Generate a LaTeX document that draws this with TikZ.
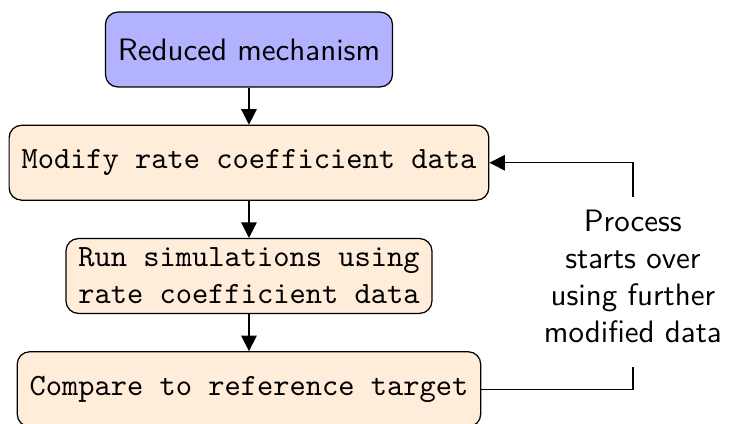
\documentclass[tikz,border=0pt]{standalone}
\usepackage{tikz}
\usetikzlibrary{positioning, arrows.meta}

\begin{document}
\begin{tikzpicture}[>={Triangle[length=5pt,width=5pt]}, node distance=12pt,
    mech/.style={draw, rounded corners, fill=blue!30, font=\sffamily, inner xsep=4pt, inner ysep=2pt, minimum height=0.85cm},
    proc/.style={draw, rounded corners, fill=orange!15, font=\ttfamily, align=center, inner xsep=4pt, inner ysep=2pt, minimum height=0.85cm}]
    \useasboundingbox (0,0) rectangle (237.5pt,-137pt);
    \node[mech] (M) at (80.45pt,-16pt) {Reduced mechanism};
    \node[proc] (Mod) [below=of M] {Modify rate coefficient data};
    \node[proc] (Run) [below=of Mod] {Run simulations using \\ rate coefficient data};
    \node[proc] (Cmp) [below=of Run] {Compare to reference target};
    \node[font=\sffamily, align=center, inner sep=4pt] (Lbl) at (204.5pt,-91pt) {Process \\ starts over \\ using further \\ modified data\strut};

    \draw[->] (M) -- (Mod);
    \draw[->] (Mod) -- (Run);
    \draw[->] (Run) -- (Cmp);
    \draw (Cmp.east) -| (Lbl.south);
    \draw[->] (Lbl.north) |- (Mod.east);
\end{tikzpicture}
\end{document}
